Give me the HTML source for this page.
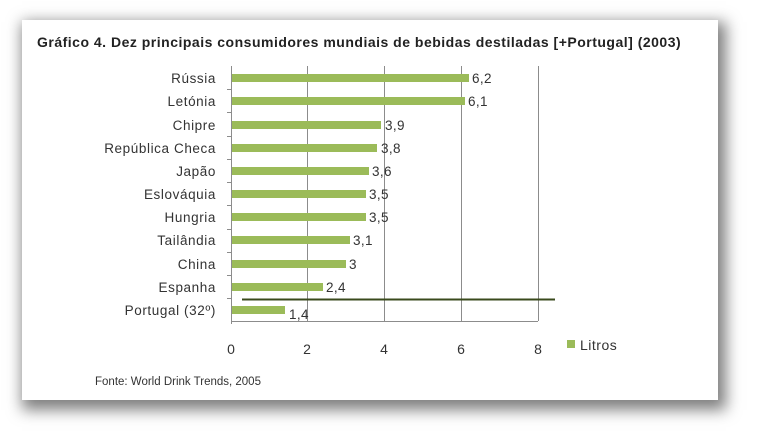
<!DOCTYPE html>
<html><head><meta charset="utf-8"><style>
html,body{margin:0;padding:0;background:#fff;}
body{width:762px;height:442px;position:relative;overflow:hidden;font-family:"Liberation Sans",Arial,sans-serif;}
.card{position:absolute;left:22px;top:20px;width:696px;height:380px;background:#fff;box-shadow:4px 6px 14px 4px rgba(0,0,0,0.5);}
</style></head><body>
<div class="card"></div>
<svg width="762" height="442" style="position:absolute;left:0;top:0" font-family="Liberation Sans, Arial, sans-serif">
<text x="37" y="47" font-size="14" font-weight="bold" fill="#222" letter-spacing="0.35" textLength="644" lengthAdjust="spacing">Gráfico 4.  Dez principais consumidores mundiais de bebidas destiladas [+Portugal] (2003)</text>
<g stroke="#8c8c8c" stroke-width="1">
<line x1="307.5" y1="66" x2="307.5" y2="321"/>
<line x1="384.5" y1="66" x2="384.5" y2="321"/>
<line x1="461.5" y1="66" x2="461.5" y2="321"/>
<line x1="538.5" y1="66" x2="538.5" y2="321"/>
<line x1="231.5" y1="66" x2="231.5" y2="324"/>
<line x1="231" y1="321.5" x2="538" y2="321.5"/>
</g>
<g stroke="#8c8c8c">
<line x1="227" y1="89.5" x2="231" y2="89.5"/><line x1="227" y1="112.5" x2="231" y2="112.5"/><line x1="227" y1="136.5" x2="231" y2="136.5"/><line x1="227" y1="159.5" x2="231" y2="159.5"/><line x1="227" y1="182.5" x2="231" y2="182.5"/><line x1="227" y1="205.5" x2="231" y2="205.5"/><line x1="227" y1="229.5" x2="231" y2="229.5"/><line x1="227" y1="252.5" x2="231" y2="252.5"/><line x1="227" y1="275.5" x2="231" y2="275.5"/><line x1="227" y1="298.5" x2="231" y2="298.5"/>
</g>
<g fill="#9bbb59">
<rect x="232" y="74" width="237" height="8"/>
<rect x="232" y="97" width="233" height="8"/>
<rect x="232" y="121" width="149" height="8"/>
<rect x="232" y="144" width="145" height="8"/>
<rect x="232" y="167" width="137" height="8"/>
<rect x="232" y="190" width="134" height="8"/>
<rect x="232" y="213" width="134" height="8"/>
<rect x="232" y="236" width="118" height="8"/>
<rect x="232" y="260" width="114" height="8"/>
<rect x="232" y="283" width="91" height="8"/>
<rect x="232" y="306" width="53" height="8"/>
</g>
<line x1="242" y1="299.5" x2="555" y2="299.5" stroke="#3a4a1c" stroke-width="2"/>
<g font-size="13.5" fill="#333" text-anchor="end" letter-spacing="0.6">
<text x="216" y="83">Rússia</text>
<text x="216" y="106">Letónia</text>
<text x="216" y="130">Chipre</text>
<text x="216" y="153">República Checa</text>
<text x="216" y="176">Japão</text>
<text x="216" y="199">Eslováquia</text>
<text x="216" y="222">Hungria</text>
<text x="216" y="245">Tailândia</text>
<text x="216" y="269">China</text>
<text x="216" y="292">Espanha</text>
<text x="216" y="315">Portugal (32º)</text>
</g>
<g font-size="13.5" fill="#333" letter-spacing="0.4">
<text x="472" y="83">6,2</text>
<text x="468" y="106">6,1</text>
<text x="385" y="130">3,9</text>
<text x="381" y="153">3,8</text>
<text x="372" y="176">3,6</text>
<text x="369" y="199">3,5</text>
<text x="369" y="222">3,5</text>
<text x="353" y="245">3,1</text>
<text x="349" y="269">3</text>
<text x="326" y="292">2,4</text>
<text x="289" y="319">1,4</text>
</g>
<g font-size="14" fill="#333" text-anchor="middle">
<text x="231" y="354">0</text><text x="307" y="354">2</text><text x="384" y="354">4</text><text x="461" y="354">6</text><text x="538" y="354">8</text>
</g>
<rect x="567" y="340" width="8" height="8" fill="#9bbb59"/>
<text x="580" y="350" font-size="14" fill="#333" letter-spacing="0.5">Litros</text>
<text x="95" y="385" font-size="11.5" fill="#333">Fonte: World Drink Trends, 2005</text>
</svg>
</body></html>
